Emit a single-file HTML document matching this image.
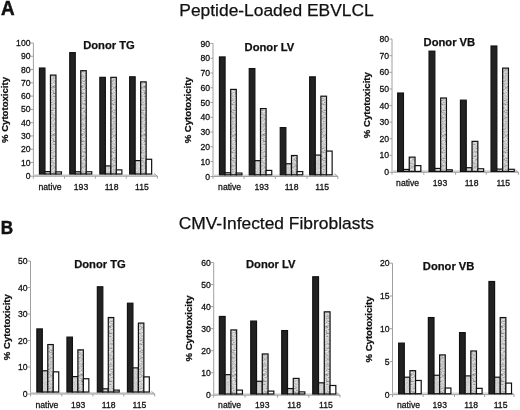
<!DOCTYPE html>
<html><head><meta charset="utf-8"><style>
html,body{margin:0;padding:0;background:#fff;}
body{filter:grayscale(100%);}
svg{display:block;}
text{font-family:"Liberation Sans", sans-serif;fill:#111;}
.t{stroke:#111;stroke-width:0.3px;}
.b{stroke:#111;stroke-width:0.25px;}
</style></head><body>
<svg width="520" height="410" viewBox="0 0 520 410">
<rect width="520" height="410" fill="#fff"/>
<defs>
<pattern id="stip" patternUnits="userSpaceOnUse" width="7" height="48" x="0.3"><rect x="0" y="0" width="1" height="1" fill="rgb(222,222,222)"/><rect x="1" y="0" width="1" height="1" fill="rgb(173,173,173)"/><rect x="2" y="0" width="1" height="1" fill="rgb(201,201,201)"/><rect x="3" y="0" width="1" height="1" fill="rgb(211,211,211)"/><rect x="4" y="0" width="1" height="1" fill="rgb(143,143,143)"/><rect x="5" y="0" width="1" height="1" fill="rgb(153,153,153)"/><rect x="6" y="0" width="1" height="1" fill="rgb(210,210,210)"/><rect x="0" y="1" width="1" height="1" fill="rgb(196,196,196)"/><rect x="1" y="1" width="1" height="1" fill="rgb(230,230,230)"/><rect x="2" y="1" width="1" height="1" fill="rgb(197,197,197)"/><rect x="3" y="1" width="1" height="1" fill="rgb(235,235,235)"/><rect x="4" y="1" width="1" height="1" fill="rgb(217,217,217)"/><rect x="5" y="1" width="1" height="1" fill="rgb(218,218,218)"/><rect x="6" y="1" width="1" height="1" fill="rgb(217,217,217)"/><rect x="0" y="2" width="1" height="1" fill="rgb(181,181,181)"/><rect x="1" y="2" width="1" height="1" fill="rgb(191,191,191)"/><rect x="2" y="2" width="1" height="1" fill="rgb(212,212,212)"/><rect x="3" y="2" width="1" height="1" fill="rgb(208,208,208)"/><rect x="4" y="2" width="1" height="1" fill="rgb(190,190,190)"/><rect x="5" y="2" width="1" height="1" fill="rgb(213,213,213)"/><rect x="6" y="2" width="1" height="1" fill="rgb(195,195,195)"/><rect x="0" y="3" width="1" height="1" fill="rgb(235,235,235)"/><rect x="1" y="3" width="1" height="1" fill="rgb(184,184,184)"/><rect x="2" y="3" width="1" height="1" fill="rgb(194,194,194)"/><rect x="3" y="3" width="1" height="1" fill="rgb(192,192,192)"/><rect x="4" y="3" width="1" height="1" fill="rgb(235,235,235)"/><rect x="5" y="3" width="1" height="1" fill="rgb(206,206,206)"/><rect x="6" y="3" width="1" height="1" fill="rgb(194,194,194)"/><rect x="0" y="4" width="1" height="1" fill="rgb(133,133,133)"/><rect x="1" y="4" width="1" height="1" fill="rgb(176,176,176)"/><rect x="2" y="4" width="1" height="1" fill="rgb(193,193,193)"/><rect x="3" y="4" width="1" height="1" fill="rgb(234,234,234)"/><rect x="4" y="4" width="1" height="1" fill="rgb(169,169,169)"/><rect x="5" y="4" width="1" height="1" fill="rgb(216,216,216)"/><rect x="6" y="4" width="1" height="1" fill="rgb(202,202,202)"/><rect x="0" y="5" width="1" height="1" fill="rgb(199,199,199)"/><rect x="1" y="5" width="1" height="1" fill="rgb(235,235,235)"/><rect x="2" y="5" width="1" height="1" fill="rgb(204,204,204)"/><rect x="3" y="5" width="1" height="1" fill="rgb(203,203,203)"/><rect x="4" y="5" width="1" height="1" fill="rgb(202,202,202)"/><rect x="5" y="5" width="1" height="1" fill="rgb(211,211,211)"/><rect x="6" y="5" width="1" height="1" fill="rgb(210,210,210)"/><rect x="0" y="6" width="1" height="1" fill="rgb(206,206,206)"/><rect x="1" y="6" width="1" height="1" fill="rgb(225,225,225)"/><rect x="2" y="6" width="1" height="1" fill="rgb(126,126,126)"/><rect x="3" y="6" width="1" height="1" fill="rgb(213,213,213)"/><rect x="4" y="6" width="1" height="1" fill="rgb(216,216,216)"/><rect x="5" y="6" width="1" height="1" fill="rgb(193,193,193)"/><rect x="6" y="6" width="1" height="1" fill="rgb(235,235,235)"/><rect x="0" y="7" width="1" height="1" fill="rgb(172,172,172)"/><rect x="1" y="7" width="1" height="1" fill="rgb(207,207,207)"/><rect x="2" y="7" width="1" height="1" fill="rgb(220,220,220)"/><rect x="3" y="7" width="1" height="1" fill="rgb(205,205,205)"/><rect x="4" y="7" width="1" height="1" fill="rgb(207,207,207)"/><rect x="5" y="7" width="1" height="1" fill="rgb(160,160,160)"/><rect x="6" y="7" width="1" height="1" fill="rgb(185,185,185)"/><rect x="0" y="8" width="1" height="1" fill="rgb(183,183,183)"/><rect x="1" y="8" width="1" height="1" fill="rgb(129,129,129)"/><rect x="2" y="8" width="1" height="1" fill="rgb(213,213,213)"/><rect x="3" y="8" width="1" height="1" fill="rgb(165,165,165)"/><rect x="4" y="8" width="1" height="1" fill="rgb(198,198,198)"/><rect x="5" y="8" width="1" height="1" fill="rgb(211,211,211)"/><rect x="6" y="8" width="1" height="1" fill="rgb(162,162,162)"/><rect x="0" y="9" width="1" height="1" fill="rgb(211,211,211)"/><rect x="1" y="9" width="1" height="1" fill="rgb(206,206,206)"/><rect x="2" y="9" width="1" height="1" fill="rgb(206,206,206)"/><rect x="3" y="9" width="1" height="1" fill="rgb(203,203,203)"/><rect x="4" y="9" width="1" height="1" fill="rgb(209,209,209)"/><rect x="5" y="9" width="1" height="1" fill="rgb(215,215,215)"/><rect x="6" y="9" width="1" height="1" fill="rgb(218,218,218)"/><rect x="0" y="10" width="1" height="1" fill="rgb(233,233,233)"/><rect x="1" y="10" width="1" height="1" fill="rgb(233,233,233)"/><rect x="2" y="10" width="1" height="1" fill="rgb(197,197,197)"/><rect x="3" y="10" width="1" height="1" fill="rgb(206,206,206)"/><rect x="4" y="10" width="1" height="1" fill="rgb(202,202,202)"/><rect x="5" y="10" width="1" height="1" fill="rgb(235,235,235)"/><rect x="6" y="10" width="1" height="1" fill="rgb(173,173,173)"/><rect x="0" y="11" width="1" height="1" fill="rgb(198,198,198)"/><rect x="1" y="11" width="1" height="1" fill="rgb(230,230,230)"/><rect x="2" y="11" width="1" height="1" fill="rgb(210,210,210)"/><rect x="3" y="11" width="1" height="1" fill="rgb(200,200,200)"/><rect x="4" y="11" width="1" height="1" fill="rgb(191,191,191)"/><rect x="5" y="11" width="1" height="1" fill="rgb(209,209,209)"/><rect x="6" y="11" width="1" height="1" fill="rgb(181,181,181)"/><rect x="0" y="12" width="1" height="1" fill="rgb(212,212,212)"/><rect x="1" y="12" width="1" height="1" fill="rgb(235,235,235)"/><rect x="2" y="12" width="1" height="1" fill="rgb(218,218,218)"/><rect x="3" y="12" width="1" height="1" fill="rgb(171,171,171)"/><rect x="4" y="12" width="1" height="1" fill="rgb(187,187,187)"/><rect x="5" y="12" width="1" height="1" fill="rgb(147,147,147)"/><rect x="6" y="12" width="1" height="1" fill="rgb(147,147,147)"/><rect x="0" y="13" width="1" height="1" fill="rgb(221,221,221)"/><rect x="1" y="13" width="1" height="1" fill="rgb(161,161,161)"/><rect x="2" y="13" width="1" height="1" fill="rgb(221,221,221)"/><rect x="3" y="13" width="1" height="1" fill="rgb(196,196,196)"/><rect x="4" y="13" width="1" height="1" fill="rgb(216,216,216)"/><rect x="5" y="13" width="1" height="1" fill="rgb(213,213,213)"/><rect x="6" y="13" width="1" height="1" fill="rgb(232,232,232)"/><rect x="0" y="14" width="1" height="1" fill="rgb(177,177,177)"/><rect x="1" y="14" width="1" height="1" fill="rgb(209,209,209)"/><rect x="2" y="14" width="1" height="1" fill="rgb(126,126,126)"/><rect x="3" y="14" width="1" height="1" fill="rgb(168,168,168)"/><rect x="4" y="14" width="1" height="1" fill="rgb(193,193,193)"/><rect x="5" y="14" width="1" height="1" fill="rgb(207,207,207)"/><rect x="6" y="14" width="1" height="1" fill="rgb(222,222,222)"/><rect x="0" y="15" width="1" height="1" fill="rgb(155,155,155)"/><rect x="1" y="15" width="1" height="1" fill="rgb(235,235,235)"/><rect x="2" y="15" width="1" height="1" fill="rgb(195,195,195)"/><rect x="3" y="15" width="1" height="1" fill="rgb(231,231,231)"/><rect x="4" y="15" width="1" height="1" fill="rgb(235,235,235)"/><rect x="5" y="15" width="1" height="1" fill="rgb(231,231,231)"/><rect x="6" y="15" width="1" height="1" fill="rgb(156,156,156)"/><rect x="0" y="16" width="1" height="1" fill="rgb(195,195,195)"/><rect x="1" y="16" width="1" height="1" fill="rgb(146,146,146)"/><rect x="2" y="16" width="1" height="1" fill="rgb(191,191,191)"/><rect x="3" y="16" width="1" height="1" fill="rgb(186,186,186)"/><rect x="4" y="16" width="1" height="1" fill="rgb(231,231,231)"/><rect x="5" y="16" width="1" height="1" fill="rgb(179,179,179)"/><rect x="6" y="16" width="1" height="1" fill="rgb(202,202,202)"/><rect x="0" y="17" width="1" height="1" fill="rgb(220,220,220)"/><rect x="1" y="17" width="1" height="1" fill="rgb(196,196,196)"/><rect x="2" y="17" width="1" height="1" fill="rgb(211,211,211)"/><rect x="3" y="17" width="1" height="1" fill="rgb(180,180,180)"/><rect x="4" y="17" width="1" height="1" fill="rgb(212,212,212)"/><rect x="5" y="17" width="1" height="1" fill="rgb(226,226,226)"/><rect x="6" y="17" width="1" height="1" fill="rgb(194,194,194)"/><rect x="0" y="18" width="1" height="1" fill="rgb(227,227,227)"/><rect x="1" y="18" width="1" height="1" fill="rgb(208,208,208)"/><rect x="2" y="18" width="1" height="1" fill="rgb(153,153,153)"/><rect x="3" y="18" width="1" height="1" fill="rgb(194,194,194)"/><rect x="4" y="18" width="1" height="1" fill="rgb(189,189,189)"/><rect x="5" y="18" width="1" height="1" fill="rgb(199,199,199)"/><rect x="6" y="18" width="1" height="1" fill="rgb(208,208,208)"/><rect x="0" y="19" width="1" height="1" fill="rgb(196,196,196)"/><rect x="1" y="19" width="1" height="1" fill="rgb(200,200,200)"/><rect x="2" y="19" width="1" height="1" fill="rgb(235,235,235)"/><rect x="3" y="19" width="1" height="1" fill="rgb(208,208,208)"/><rect x="4" y="19" width="1" height="1" fill="rgb(161,161,161)"/><rect x="5" y="19" width="1" height="1" fill="rgb(182,182,182)"/><rect x="6" y="19" width="1" height="1" fill="rgb(205,205,205)"/><rect x="0" y="20" width="1" height="1" fill="rgb(183,183,183)"/><rect x="1" y="20" width="1" height="1" fill="rgb(201,201,201)"/><rect x="2" y="20" width="1" height="1" fill="rgb(235,235,235)"/><rect x="3" y="20" width="1" height="1" fill="rgb(172,172,172)"/><rect x="4" y="20" width="1" height="1" fill="rgb(235,235,235)"/><rect x="5" y="20" width="1" height="1" fill="rgb(192,192,192)"/><rect x="6" y="20" width="1" height="1" fill="rgb(198,198,198)"/><rect x="0" y="21" width="1" height="1" fill="rgb(208,208,208)"/><rect x="1" y="21" width="1" height="1" fill="rgb(133,133,133)"/><rect x="2" y="21" width="1" height="1" fill="rgb(175,175,175)"/><rect x="3" y="21" width="1" height="1" fill="rgb(199,199,199)"/><rect x="4" y="21" width="1" height="1" fill="rgb(177,177,177)"/><rect x="5" y="21" width="1" height="1" fill="rgb(219,219,219)"/><rect x="6" y="21" width="1" height="1" fill="rgb(203,203,203)"/><rect x="0" y="22" width="1" height="1" fill="rgb(145,145,145)"/><rect x="1" y="22" width="1" height="1" fill="rgb(210,210,210)"/><rect x="2" y="22" width="1" height="1" fill="rgb(184,184,184)"/><rect x="3" y="22" width="1" height="1" fill="rgb(216,216,216)"/><rect x="4" y="22" width="1" height="1" fill="rgb(192,192,192)"/><rect x="5" y="22" width="1" height="1" fill="rgb(179,179,179)"/><rect x="6" y="22" width="1" height="1" fill="rgb(202,202,202)"/><rect x="0" y="23" width="1" height="1" fill="rgb(207,207,207)"/><rect x="1" y="23" width="1" height="1" fill="rgb(198,198,198)"/><rect x="2" y="23" width="1" height="1" fill="rgb(205,205,205)"/><rect x="3" y="23" width="1" height="1" fill="rgb(215,215,215)"/><rect x="4" y="23" width="1" height="1" fill="rgb(204,204,204)"/><rect x="5" y="23" width="1" height="1" fill="rgb(152,152,152)"/><rect x="6" y="23" width="1" height="1" fill="rgb(190,190,190)"/><rect x="0" y="24" width="1" height="1" fill="rgb(235,235,235)"/><rect x="1" y="24" width="1" height="1" fill="rgb(186,186,186)"/><rect x="2" y="24" width="1" height="1" fill="rgb(228,228,228)"/><rect x="3" y="24" width="1" height="1" fill="rgb(193,193,193)"/><rect x="4" y="24" width="1" height="1" fill="rgb(178,178,178)"/><rect x="5" y="24" width="1" height="1" fill="rgb(216,216,216)"/><rect x="6" y="24" width="1" height="1" fill="rgb(176,176,176)"/><rect x="0" y="25" width="1" height="1" fill="rgb(195,195,195)"/><rect x="1" y="25" width="1" height="1" fill="rgb(154,154,154)"/><rect x="2" y="25" width="1" height="1" fill="rgb(200,200,200)"/><rect x="3" y="25" width="1" height="1" fill="rgb(192,192,192)"/><rect x="4" y="25" width="1" height="1" fill="rgb(227,227,227)"/><rect x="5" y="25" width="1" height="1" fill="rgb(222,222,222)"/><rect x="6" y="25" width="1" height="1" fill="rgb(223,223,223)"/><rect x="0" y="26" width="1" height="1" fill="rgb(209,209,209)"/><rect x="1" y="26" width="1" height="1" fill="rgb(211,211,211)"/><rect x="2" y="26" width="1" height="1" fill="rgb(194,194,194)"/><rect x="3" y="26" width="1" height="1" fill="rgb(235,235,235)"/><rect x="4" y="26" width="1" height="1" fill="rgb(214,214,214)"/><rect x="5" y="26" width="1" height="1" fill="rgb(166,166,166)"/><rect x="6" y="26" width="1" height="1" fill="rgb(235,235,235)"/><rect x="0" y="27" width="1" height="1" fill="rgb(209,209,209)"/><rect x="1" y="27" width="1" height="1" fill="rgb(159,159,159)"/><rect x="2" y="27" width="1" height="1" fill="rgb(213,213,213)"/><rect x="3" y="27" width="1" height="1" fill="rgb(184,184,184)"/><rect x="4" y="27" width="1" height="1" fill="rgb(215,215,215)"/><rect x="5" y="27" width="1" height="1" fill="rgb(175,175,175)"/><rect x="6" y="27" width="1" height="1" fill="rgb(204,204,204)"/><rect x="0" y="28" width="1" height="1" fill="rgb(221,221,221)"/><rect x="1" y="28" width="1" height="1" fill="rgb(178,178,178)"/><rect x="2" y="28" width="1" height="1" fill="rgb(202,202,202)"/><rect x="3" y="28" width="1" height="1" fill="rgb(211,211,211)"/><rect x="4" y="28" width="1" height="1" fill="rgb(149,149,149)"/><rect x="5" y="28" width="1" height="1" fill="rgb(190,190,190)"/><rect x="6" y="28" width="1" height="1" fill="rgb(171,171,171)"/><rect x="0" y="29" width="1" height="1" fill="rgb(172,172,172)"/><rect x="1" y="29" width="1" height="1" fill="rgb(206,206,206)"/><rect x="2" y="29" width="1" height="1" fill="rgb(222,222,222)"/><rect x="3" y="29" width="1" height="1" fill="rgb(191,191,191)"/><rect x="4" y="29" width="1" height="1" fill="rgb(211,211,211)"/><rect x="5" y="29" width="1" height="1" fill="rgb(191,191,191)"/><rect x="6" y="29" width="1" height="1" fill="rgb(201,201,201)"/><rect x="0" y="30" width="1" height="1" fill="rgb(205,205,205)"/><rect x="1" y="30" width="1" height="1" fill="rgb(206,206,206)"/><rect x="2" y="30" width="1" height="1" fill="rgb(192,192,192)"/><rect x="3" y="30" width="1" height="1" fill="rgb(205,205,205)"/><rect x="4" y="30" width="1" height="1" fill="rgb(149,149,149)"/><rect x="5" y="30" width="1" height="1" fill="rgb(214,214,214)"/><rect x="6" y="30" width="1" height="1" fill="rgb(166,166,166)"/><rect x="0" y="31" width="1" height="1" fill="rgb(208,208,208)"/><rect x="1" y="31" width="1" height="1" fill="rgb(173,173,173)"/><rect x="2" y="31" width="1" height="1" fill="rgb(199,199,199)"/><rect x="3" y="31" width="1" height="1" fill="rgb(220,220,220)"/><rect x="4" y="31" width="1" height="1" fill="rgb(192,192,192)"/><rect x="5" y="31" width="1" height="1" fill="rgb(224,224,224)"/><rect x="6" y="31" width="1" height="1" fill="rgb(231,231,231)"/><rect x="0" y="32" width="1" height="1" fill="rgb(171,171,171)"/><rect x="1" y="32" width="1" height="1" fill="rgb(169,169,169)"/><rect x="2" y="32" width="1" height="1" fill="rgb(210,210,210)"/><rect x="3" y="32" width="1" height="1" fill="rgb(195,195,195)"/><rect x="4" y="32" width="1" height="1" fill="rgb(224,224,224)"/><rect x="5" y="32" width="1" height="1" fill="rgb(174,174,174)"/><rect x="6" y="32" width="1" height="1" fill="rgb(229,229,229)"/><rect x="0" y="33" width="1" height="1" fill="rgb(187,187,187)"/><rect x="1" y="33" width="1" height="1" fill="rgb(216,216,216)"/><rect x="2" y="33" width="1" height="1" fill="rgb(208,208,208)"/><rect x="3" y="33" width="1" height="1" fill="rgb(219,219,219)"/><rect x="4" y="33" width="1" height="1" fill="rgb(184,184,184)"/><rect x="5" y="33" width="1" height="1" fill="rgb(196,196,196)"/><rect x="6" y="33" width="1" height="1" fill="rgb(128,128,128)"/><rect x="0" y="34" width="1" height="1" fill="rgb(205,205,205)"/><rect x="1" y="34" width="1" height="1" fill="rgb(182,182,182)"/><rect x="2" y="34" width="1" height="1" fill="rgb(235,235,235)"/><rect x="3" y="34" width="1" height="1" fill="rgb(219,219,219)"/><rect x="4" y="34" width="1" height="1" fill="rgb(146,146,146)"/><rect x="5" y="34" width="1" height="1" fill="rgb(235,235,235)"/><rect x="6" y="34" width="1" height="1" fill="rgb(229,229,229)"/><rect x="0" y="35" width="1" height="1" fill="rgb(202,202,202)"/><rect x="1" y="35" width="1" height="1" fill="rgb(192,192,192)"/><rect x="2" y="35" width="1" height="1" fill="rgb(174,174,174)"/><rect x="3" y="35" width="1" height="1" fill="rgb(215,215,215)"/><rect x="4" y="35" width="1" height="1" fill="rgb(211,211,211)"/><rect x="5" y="35" width="1" height="1" fill="rgb(197,197,197)"/><rect x="6" y="35" width="1" height="1" fill="rgb(174,174,174)"/><rect x="0" y="36" width="1" height="1" fill="rgb(146,146,146)"/><rect x="1" y="36" width="1" height="1" fill="rgb(235,235,235)"/><rect x="2" y="36" width="1" height="1" fill="rgb(199,199,199)"/><rect x="3" y="36" width="1" height="1" fill="rgb(229,229,229)"/><rect x="4" y="36" width="1" height="1" fill="rgb(235,235,235)"/><rect x="5" y="36" width="1" height="1" fill="rgb(234,234,234)"/><rect x="6" y="36" width="1" height="1" fill="rgb(209,209,209)"/><rect x="0" y="37" width="1" height="1" fill="rgb(204,204,204)"/><rect x="1" y="37" width="1" height="1" fill="rgb(227,227,227)"/><rect x="2" y="37" width="1" height="1" fill="rgb(201,201,201)"/><rect x="3" y="37" width="1" height="1" fill="rgb(218,218,218)"/><rect x="4" y="37" width="1" height="1" fill="rgb(201,201,201)"/><rect x="5" y="37" width="1" height="1" fill="rgb(157,157,157)"/><rect x="6" y="37" width="1" height="1" fill="rgb(198,198,198)"/><rect x="0" y="38" width="1" height="1" fill="rgb(164,164,164)"/><rect x="1" y="38" width="1" height="1" fill="rgb(203,203,203)"/><rect x="2" y="38" width="1" height="1" fill="rgb(224,224,224)"/><rect x="3" y="38" width="1" height="1" fill="rgb(136,136,136)"/><rect x="4" y="38" width="1" height="1" fill="rgb(128,128,128)"/><rect x="5" y="38" width="1" height="1" fill="rgb(207,207,207)"/><rect x="6" y="38" width="1" height="1" fill="rgb(196,196,196)"/><rect x="0" y="39" width="1" height="1" fill="rgb(220,220,220)"/><rect x="1" y="39" width="1" height="1" fill="rgb(150,150,150)"/><rect x="2" y="39" width="1" height="1" fill="rgb(167,167,167)"/><rect x="3" y="39" width="1" height="1" fill="rgb(196,196,196)"/><rect x="4" y="39" width="1" height="1" fill="rgb(164,164,164)"/><rect x="5" y="39" width="1" height="1" fill="rgb(148,148,148)"/><rect x="6" y="39" width="1" height="1" fill="rgb(235,235,235)"/><rect x="0" y="40" width="1" height="1" fill="rgb(191,191,191)"/><rect x="1" y="40" width="1" height="1" fill="rgb(157,157,157)"/><rect x="2" y="40" width="1" height="1" fill="rgb(214,214,214)"/><rect x="3" y="40" width="1" height="1" fill="rgb(191,191,191)"/><rect x="4" y="40" width="1" height="1" fill="rgb(203,203,203)"/><rect x="5" y="40" width="1" height="1" fill="rgb(229,229,229)"/><rect x="6" y="40" width="1" height="1" fill="rgb(235,235,235)"/><rect x="0" y="41" width="1" height="1" fill="rgb(194,194,194)"/><rect x="1" y="41" width="1" height="1" fill="rgb(235,235,235)"/><rect x="2" y="41" width="1" height="1" fill="rgb(181,181,181)"/><rect x="3" y="41" width="1" height="1" fill="rgb(235,235,235)"/><rect x="4" y="41" width="1" height="1" fill="rgb(215,215,215)"/><rect x="5" y="41" width="1" height="1" fill="rgb(195,195,195)"/><rect x="6" y="41" width="1" height="1" fill="rgb(137,137,137)"/><rect x="0" y="42" width="1" height="1" fill="rgb(221,221,221)"/><rect x="1" y="42" width="1" height="1" fill="rgb(222,222,222)"/><rect x="2" y="42" width="1" height="1" fill="rgb(202,202,202)"/><rect x="3" y="42" width="1" height="1" fill="rgb(151,151,151)"/><rect x="4" y="42" width="1" height="1" fill="rgb(197,197,197)"/><rect x="5" y="42" width="1" height="1" fill="rgb(230,230,230)"/><rect x="6" y="42" width="1" height="1" fill="rgb(213,213,213)"/><rect x="0" y="43" width="1" height="1" fill="rgb(217,217,217)"/><rect x="1" y="43" width="1" height="1" fill="rgb(214,214,214)"/><rect x="2" y="43" width="1" height="1" fill="rgb(235,235,235)"/><rect x="3" y="43" width="1" height="1" fill="rgb(214,214,214)"/><rect x="4" y="43" width="1" height="1" fill="rgb(160,160,160)"/><rect x="5" y="43" width="1" height="1" fill="rgb(218,218,218)"/><rect x="6" y="43" width="1" height="1" fill="rgb(214,214,214)"/><rect x="0" y="44" width="1" height="1" fill="rgb(231,231,231)"/><rect x="1" y="44" width="1" height="1" fill="rgb(184,184,184)"/><rect x="2" y="44" width="1" height="1" fill="rgb(186,186,186)"/><rect x="3" y="44" width="1" height="1" fill="rgb(203,203,203)"/><rect x="4" y="44" width="1" height="1" fill="rgb(140,140,140)"/><rect x="5" y="44" width="1" height="1" fill="rgb(235,235,235)"/><rect x="6" y="44" width="1" height="1" fill="rgb(178,178,178)"/><rect x="0" y="45" width="1" height="1" fill="rgb(177,177,177)"/><rect x="1" y="45" width="1" height="1" fill="rgb(206,206,206)"/><rect x="2" y="45" width="1" height="1" fill="rgb(226,226,226)"/><rect x="3" y="45" width="1" height="1" fill="rgb(229,229,229)"/><rect x="4" y="45" width="1" height="1" fill="rgb(116,116,116)"/><rect x="5" y="45" width="1" height="1" fill="rgb(139,139,139)"/><rect x="6" y="45" width="1" height="1" fill="rgb(164,164,164)"/><rect x="0" y="46" width="1" height="1" fill="rgb(225,225,225)"/><rect x="1" y="46" width="1" height="1" fill="rgb(206,206,206)"/><rect x="2" y="46" width="1" height="1" fill="rgb(235,235,235)"/><rect x="3" y="46" width="1" height="1" fill="rgb(163,163,163)"/><rect x="4" y="46" width="1" height="1" fill="rgb(219,219,219)"/><rect x="5" y="46" width="1" height="1" fill="rgb(226,226,226)"/><rect x="6" y="46" width="1" height="1" fill="rgb(200,200,200)"/><rect x="0" y="47" width="1" height="1" fill="rgb(177,177,177)"/><rect x="1" y="47" width="1" height="1" fill="rgb(200,200,200)"/><rect x="2" y="47" width="1" height="1" fill="rgb(204,204,204)"/><rect x="3" y="47" width="1" height="1" fill="rgb(231,231,231)"/><rect x="4" y="47" width="1" height="1" fill="rgb(192,192,192)"/><rect x="5" y="47" width="1" height="1" fill="rgb(205,205,205)"/><rect x="6" y="47" width="1" height="1" fill="rgb(234,234,234)"/></pattern>
<pattern id="lite" patternUnits="userSpaceOnUse" width="7" height="30"><rect x="0" y="0" width="1" height="1" fill="rgb(210,210,210)"/><rect x="1" y="0" width="1" height="1" fill="rgb(209,209,209)"/><rect x="2" y="0" width="1" height="1" fill="rgb(198,198,198)"/><rect x="3" y="0" width="1" height="1" fill="rgb(206,206,206)"/><rect x="4" y="0" width="1" height="1" fill="rgb(204,204,204)"/><rect x="5" y="0" width="1" height="1" fill="rgb(211,211,211)"/><rect x="6" y="0" width="1" height="1" fill="rgb(207,207,207)"/><rect x="0" y="1" width="1" height="1" fill="rgb(207,207,207)"/><rect x="1" y="1" width="1" height="1" fill="rgb(205,205,205)"/><rect x="2" y="1" width="1" height="1" fill="rgb(215,215,215)"/><rect x="3" y="1" width="1" height="1" fill="rgb(217,217,217)"/><rect x="4" y="1" width="1" height="1" fill="rgb(205,205,205)"/><rect x="5" y="1" width="1" height="1" fill="rgb(213,213,213)"/><rect x="6" y="1" width="1" height="1" fill="rgb(202,202,202)"/><rect x="0" y="2" width="1" height="1" fill="rgb(208,208,208)"/><rect x="1" y="2" width="1" height="1" fill="rgb(213,213,213)"/><rect x="2" y="2" width="1" height="1" fill="rgb(218,218,218)"/><rect x="3" y="2" width="1" height="1" fill="rgb(205,205,205)"/><rect x="4" y="2" width="1" height="1" fill="rgb(207,207,207)"/><rect x="5" y="2" width="1" height="1" fill="rgb(209,209,209)"/><rect x="6" y="2" width="1" height="1" fill="rgb(197,197,197)"/><rect x="0" y="3" width="1" height="1" fill="rgb(208,208,208)"/><rect x="1" y="3" width="1" height="1" fill="rgb(203,203,203)"/><rect x="2" y="3" width="1" height="1" fill="rgb(210,210,210)"/><rect x="3" y="3" width="1" height="1" fill="rgb(200,200,200)"/><rect x="4" y="3" width="1" height="1" fill="rgb(194,194,194)"/><rect x="5" y="3" width="1" height="1" fill="rgb(208,208,208)"/><rect x="6" y="3" width="1" height="1" fill="rgb(209,209,209)"/><rect x="0" y="4" width="1" height="1" fill="rgb(204,204,204)"/><rect x="1" y="4" width="1" height="1" fill="rgb(214,214,214)"/><rect x="2" y="4" width="1" height="1" fill="rgb(206,206,206)"/><rect x="3" y="4" width="1" height="1" fill="rgb(203,203,203)"/><rect x="4" y="4" width="1" height="1" fill="rgb(211,211,211)"/><rect x="5" y="4" width="1" height="1" fill="rgb(197,197,197)"/><rect x="6" y="4" width="1" height="1" fill="rgb(203,203,203)"/><rect x="0" y="5" width="1" height="1" fill="rgb(207,207,207)"/><rect x="1" y="5" width="1" height="1" fill="rgb(213,213,213)"/><rect x="2" y="5" width="1" height="1" fill="rgb(206,206,206)"/><rect x="3" y="5" width="1" height="1" fill="rgb(210,210,210)"/><rect x="4" y="5" width="1" height="1" fill="rgb(203,203,203)"/><rect x="5" y="5" width="1" height="1" fill="rgb(210,210,210)"/><rect x="6" y="5" width="1" height="1" fill="rgb(219,219,219)"/><rect x="0" y="6" width="1" height="1" fill="rgb(203,203,203)"/><rect x="1" y="6" width="1" height="1" fill="rgb(224,224,224)"/><rect x="2" y="6" width="1" height="1" fill="rgb(203,203,203)"/><rect x="3" y="6" width="1" height="1" fill="rgb(208,208,208)"/><rect x="4" y="6" width="1" height="1" fill="rgb(209,209,209)"/><rect x="5" y="6" width="1" height="1" fill="rgb(215,215,215)"/><rect x="6" y="6" width="1" height="1" fill="rgb(199,199,199)"/><rect x="0" y="7" width="1" height="1" fill="rgb(193,193,193)"/><rect x="1" y="7" width="1" height="1" fill="rgb(212,212,212)"/><rect x="2" y="7" width="1" height="1" fill="rgb(213,213,213)"/><rect x="3" y="7" width="1" height="1" fill="rgb(212,212,212)"/><rect x="4" y="7" width="1" height="1" fill="rgb(226,226,226)"/><rect x="5" y="7" width="1" height="1" fill="rgb(209,209,209)"/><rect x="6" y="7" width="1" height="1" fill="rgb(209,209,209)"/><rect x="0" y="8" width="1" height="1" fill="rgb(214,214,214)"/><rect x="1" y="8" width="1" height="1" fill="rgb(210,210,210)"/><rect x="2" y="8" width="1" height="1" fill="rgb(219,219,219)"/><rect x="3" y="8" width="1" height="1" fill="rgb(199,199,199)"/><rect x="4" y="8" width="1" height="1" fill="rgb(205,205,205)"/><rect x="5" y="8" width="1" height="1" fill="rgb(183,183,183)"/><rect x="6" y="8" width="1" height="1" fill="rgb(213,213,213)"/><rect x="0" y="9" width="1" height="1" fill="rgb(205,205,205)"/><rect x="1" y="9" width="1" height="1" fill="rgb(214,214,214)"/><rect x="2" y="9" width="1" height="1" fill="rgb(223,223,223)"/><rect x="3" y="9" width="1" height="1" fill="rgb(207,207,207)"/><rect x="4" y="9" width="1" height="1" fill="rgb(206,206,206)"/><rect x="5" y="9" width="1" height="1" fill="rgb(204,204,204)"/><rect x="6" y="9" width="1" height="1" fill="rgb(202,202,202)"/><rect x="0" y="10" width="1" height="1" fill="rgb(203,203,203)"/><rect x="1" y="10" width="1" height="1" fill="rgb(212,212,212)"/><rect x="2" y="10" width="1" height="1" fill="rgb(208,208,208)"/><rect x="3" y="10" width="1" height="1" fill="rgb(208,208,208)"/><rect x="4" y="10" width="1" height="1" fill="rgb(206,206,206)"/><rect x="5" y="10" width="1" height="1" fill="rgb(214,214,214)"/><rect x="6" y="10" width="1" height="1" fill="rgb(211,211,211)"/><rect x="0" y="11" width="1" height="1" fill="rgb(207,207,207)"/><rect x="1" y="11" width="1" height="1" fill="rgb(212,212,212)"/><rect x="2" y="11" width="1" height="1" fill="rgb(206,206,206)"/><rect x="3" y="11" width="1" height="1" fill="rgb(199,199,199)"/><rect x="4" y="11" width="1" height="1" fill="rgb(218,218,218)"/><rect x="5" y="11" width="1" height="1" fill="rgb(211,211,211)"/><rect x="6" y="11" width="1" height="1" fill="rgb(201,201,201)"/><rect x="0" y="12" width="1" height="1" fill="rgb(215,215,215)"/><rect x="1" y="12" width="1" height="1" fill="rgb(210,210,210)"/><rect x="2" y="12" width="1" height="1" fill="rgb(197,197,197)"/><rect x="3" y="12" width="1" height="1" fill="rgb(219,219,219)"/><rect x="4" y="12" width="1" height="1" fill="rgb(210,210,210)"/><rect x="5" y="12" width="1" height="1" fill="rgb(214,214,214)"/><rect x="6" y="12" width="1" height="1" fill="rgb(209,209,209)"/><rect x="0" y="13" width="1" height="1" fill="rgb(206,206,206)"/><rect x="1" y="13" width="1" height="1" fill="rgb(197,197,197)"/><rect x="2" y="13" width="1" height="1" fill="rgb(214,214,214)"/><rect x="3" y="13" width="1" height="1" fill="rgb(208,208,208)"/><rect x="4" y="13" width="1" height="1" fill="rgb(205,205,205)"/><rect x="5" y="13" width="1" height="1" fill="rgb(210,210,210)"/><rect x="6" y="13" width="1" height="1" fill="rgb(208,208,208)"/><rect x="0" y="14" width="1" height="1" fill="rgb(212,212,212)"/><rect x="1" y="14" width="1" height="1" fill="rgb(205,205,205)"/><rect x="2" y="14" width="1" height="1" fill="rgb(207,207,207)"/><rect x="3" y="14" width="1" height="1" fill="rgb(193,193,193)"/><rect x="4" y="14" width="1" height="1" fill="rgb(205,205,205)"/><rect x="5" y="14" width="1" height="1" fill="rgb(212,212,212)"/><rect x="6" y="14" width="1" height="1" fill="rgb(217,217,217)"/><rect x="0" y="15" width="1" height="1" fill="rgb(205,205,205)"/><rect x="1" y="15" width="1" height="1" fill="rgb(207,207,207)"/><rect x="2" y="15" width="1" height="1" fill="rgb(219,219,219)"/><rect x="3" y="15" width="1" height="1" fill="rgb(205,205,205)"/><rect x="4" y="15" width="1" height="1" fill="rgb(213,213,213)"/><rect x="5" y="15" width="1" height="1" fill="rgb(219,219,219)"/><rect x="6" y="15" width="1" height="1" fill="rgb(208,208,208)"/><rect x="0" y="16" width="1" height="1" fill="rgb(216,216,216)"/><rect x="1" y="16" width="1" height="1" fill="rgb(203,203,203)"/><rect x="2" y="16" width="1" height="1" fill="rgb(209,209,209)"/><rect x="3" y="16" width="1" height="1" fill="rgb(207,207,207)"/><rect x="4" y="16" width="1" height="1" fill="rgb(208,208,208)"/><rect x="5" y="16" width="1" height="1" fill="rgb(215,215,215)"/><rect x="6" y="16" width="1" height="1" fill="rgb(224,224,224)"/><rect x="0" y="17" width="1" height="1" fill="rgb(203,203,203)"/><rect x="1" y="17" width="1" height="1" fill="rgb(203,203,203)"/><rect x="2" y="17" width="1" height="1" fill="rgb(211,211,211)"/><rect x="3" y="17" width="1" height="1" fill="rgb(200,200,200)"/><rect x="4" y="17" width="1" height="1" fill="rgb(211,211,211)"/><rect x="5" y="17" width="1" height="1" fill="rgb(212,212,212)"/><rect x="6" y="17" width="1" height="1" fill="rgb(206,206,206)"/><rect x="0" y="18" width="1" height="1" fill="rgb(211,211,211)"/><rect x="1" y="18" width="1" height="1" fill="rgb(197,197,197)"/><rect x="2" y="18" width="1" height="1" fill="rgb(213,213,213)"/><rect x="3" y="18" width="1" height="1" fill="rgb(197,197,197)"/><rect x="4" y="18" width="1" height="1" fill="rgb(203,203,203)"/><rect x="5" y="18" width="1" height="1" fill="rgb(204,204,204)"/><rect x="6" y="18" width="1" height="1" fill="rgb(205,205,205)"/><rect x="0" y="19" width="1" height="1" fill="rgb(214,214,214)"/><rect x="1" y="19" width="1" height="1" fill="rgb(208,208,208)"/><rect x="2" y="19" width="1" height="1" fill="rgb(205,205,205)"/><rect x="3" y="19" width="1" height="1" fill="rgb(211,211,211)"/><rect x="4" y="19" width="1" height="1" fill="rgb(219,219,219)"/><rect x="5" y="19" width="1" height="1" fill="rgb(208,208,208)"/><rect x="6" y="19" width="1" height="1" fill="rgb(210,210,210)"/><rect x="0" y="20" width="1" height="1" fill="rgb(216,216,216)"/><rect x="1" y="20" width="1" height="1" fill="rgb(209,209,209)"/><rect x="2" y="20" width="1" height="1" fill="rgb(199,199,199)"/><rect x="3" y="20" width="1" height="1" fill="rgb(225,225,225)"/><rect x="4" y="20" width="1" height="1" fill="rgb(223,223,223)"/><rect x="5" y="20" width="1" height="1" fill="rgb(194,194,194)"/><rect x="6" y="20" width="1" height="1" fill="rgb(207,207,207)"/><rect x="0" y="21" width="1" height="1" fill="rgb(210,210,210)"/><rect x="1" y="21" width="1" height="1" fill="rgb(214,214,214)"/><rect x="2" y="21" width="1" height="1" fill="rgb(212,212,212)"/><rect x="3" y="21" width="1" height="1" fill="rgb(206,206,206)"/><rect x="4" y="21" width="1" height="1" fill="rgb(200,200,200)"/><rect x="5" y="21" width="1" height="1" fill="rgb(208,208,208)"/><rect x="6" y="21" width="1" height="1" fill="rgb(215,215,215)"/><rect x="0" y="22" width="1" height="1" fill="rgb(200,200,200)"/><rect x="1" y="22" width="1" height="1" fill="rgb(200,200,200)"/><rect x="2" y="22" width="1" height="1" fill="rgb(207,207,207)"/><rect x="3" y="22" width="1" height="1" fill="rgb(194,194,194)"/><rect x="4" y="22" width="1" height="1" fill="rgb(206,206,206)"/><rect x="5" y="22" width="1" height="1" fill="rgb(204,204,204)"/><rect x="6" y="22" width="1" height="1" fill="rgb(211,211,211)"/><rect x="0" y="23" width="1" height="1" fill="rgb(203,203,203)"/><rect x="1" y="23" width="1" height="1" fill="rgb(201,201,201)"/><rect x="2" y="23" width="1" height="1" fill="rgb(205,205,205)"/><rect x="3" y="23" width="1" height="1" fill="rgb(207,207,207)"/><rect x="4" y="23" width="1" height="1" fill="rgb(203,203,203)"/><rect x="5" y="23" width="1" height="1" fill="rgb(208,208,208)"/><rect x="6" y="23" width="1" height="1" fill="rgb(213,213,213)"/><rect x="0" y="24" width="1" height="1" fill="rgb(216,216,216)"/><rect x="1" y="24" width="1" height="1" fill="rgb(219,219,219)"/><rect x="2" y="24" width="1" height="1" fill="rgb(202,202,202)"/><rect x="3" y="24" width="1" height="1" fill="rgb(205,205,205)"/><rect x="4" y="24" width="1" height="1" fill="rgb(190,190,190)"/><rect x="5" y="24" width="1" height="1" fill="rgb(221,221,221)"/><rect x="6" y="24" width="1" height="1" fill="rgb(202,202,202)"/><rect x="0" y="25" width="1" height="1" fill="rgb(207,207,207)"/><rect x="1" y="25" width="1" height="1" fill="rgb(211,211,211)"/><rect x="2" y="25" width="1" height="1" fill="rgb(198,198,198)"/><rect x="3" y="25" width="1" height="1" fill="rgb(211,211,211)"/><rect x="4" y="25" width="1" height="1" fill="rgb(207,207,207)"/><rect x="5" y="25" width="1" height="1" fill="rgb(195,195,195)"/><rect x="6" y="25" width="1" height="1" fill="rgb(210,210,210)"/><rect x="0" y="26" width="1" height="1" fill="rgb(216,216,216)"/><rect x="1" y="26" width="1" height="1" fill="rgb(194,194,194)"/><rect x="2" y="26" width="1" height="1" fill="rgb(213,213,213)"/><rect x="3" y="26" width="1" height="1" fill="rgb(209,209,209)"/><rect x="4" y="26" width="1" height="1" fill="rgb(211,211,211)"/><rect x="5" y="26" width="1" height="1" fill="rgb(211,211,211)"/><rect x="6" y="26" width="1" height="1" fill="rgb(217,217,217)"/><rect x="0" y="27" width="1" height="1" fill="rgb(206,206,206)"/><rect x="1" y="27" width="1" height="1" fill="rgb(214,214,214)"/><rect x="2" y="27" width="1" height="1" fill="rgb(205,205,205)"/><rect x="3" y="27" width="1" height="1" fill="rgb(213,213,213)"/><rect x="4" y="27" width="1" height="1" fill="rgb(202,202,202)"/><rect x="5" y="27" width="1" height="1" fill="rgb(207,207,207)"/><rect x="6" y="27" width="1" height="1" fill="rgb(220,220,220)"/><rect x="0" y="28" width="1" height="1" fill="rgb(211,211,211)"/><rect x="1" y="28" width="1" height="1" fill="rgb(206,206,206)"/><rect x="2" y="28" width="1" height="1" fill="rgb(199,199,199)"/><rect x="3" y="28" width="1" height="1" fill="rgb(202,202,202)"/><rect x="4" y="28" width="1" height="1" fill="rgb(209,209,209)"/><rect x="5" y="28" width="1" height="1" fill="rgb(214,214,214)"/><rect x="6" y="28" width="1" height="1" fill="rgb(210,210,210)"/><rect x="0" y="29" width="1" height="1" fill="rgb(211,211,211)"/><rect x="1" y="29" width="1" height="1" fill="rgb(207,207,207)"/><rect x="2" y="29" width="1" height="1" fill="rgb(217,217,217)"/><rect x="3" y="29" width="1" height="1" fill="rgb(205,205,205)"/><rect x="4" y="29" width="1" height="1" fill="rgb(204,204,204)"/><rect x="5" y="29" width="1" height="1" fill="rgb(214,214,214)"/><rect x="6" y="29" width="1" height="1" fill="rgb(208,208,208)"/></pattern>
</defs>
<line x1="33.4" y1="43" x2="33.4" y2="178.6" stroke="#a0a0a0" stroke-width="1"/>
<line x1="30.8" y1="176.2" x2="33.4" y2="176.2" stroke="#a0a0a0" stroke-width="1"/>
<text transform="translate(30.5,179.2) scale(0.9,1)" font-size="9.6" text-anchor="end" class="t">0</text>
<line x1="30.8" y1="162.52" x2="33.4" y2="162.52" stroke="#a0a0a0" stroke-width="1"/>
<text transform="translate(30.5,165.52) scale(0.9,1)" font-size="9.6" text-anchor="end" class="t">10</text>
<line x1="30.8" y1="149.24" x2="33.4" y2="149.24" stroke="#a0a0a0" stroke-width="1"/>
<text transform="translate(30.5,152.24) scale(0.9,1)" font-size="9.6" text-anchor="end" class="t">20</text>
<line x1="30.8" y1="135.96" x2="33.4" y2="135.96" stroke="#a0a0a0" stroke-width="1"/>
<text transform="translate(30.5,138.96) scale(0.9,1)" font-size="9.6" text-anchor="end" class="t">30</text>
<line x1="30.8" y1="122.68" x2="33.4" y2="122.68" stroke="#a0a0a0" stroke-width="1"/>
<text transform="translate(30.5,125.68) scale(0.9,1)" font-size="9.6" text-anchor="end" class="t">40</text>
<line x1="30.8" y1="109.4" x2="33.4" y2="109.4" stroke="#a0a0a0" stroke-width="1"/>
<text transform="translate(30.5,112.4) scale(0.9,1)" font-size="9.6" text-anchor="end" class="t">50</text>
<line x1="30.8" y1="96.12" x2="33.4" y2="96.12" stroke="#a0a0a0" stroke-width="1"/>
<text transform="translate(30.5,99.12) scale(0.9,1)" font-size="9.6" text-anchor="end" class="t">60</text>
<line x1="30.8" y1="82.84" x2="33.4" y2="82.84" stroke="#a0a0a0" stroke-width="1"/>
<text transform="translate(30.5,85.84) scale(0.9,1)" font-size="9.6" text-anchor="end" class="t">70</text>
<line x1="30.8" y1="69.56" x2="33.4" y2="69.56" stroke="#a0a0a0" stroke-width="1"/>
<text transform="translate(30.5,72.56) scale(0.9,1)" font-size="9.6" text-anchor="end" class="t">80</text>
<line x1="30.8" y1="56.28" x2="33.4" y2="56.28" stroke="#a0a0a0" stroke-width="1"/>
<text transform="translate(30.5,59.28) scale(0.9,1)" font-size="9.6" text-anchor="end" class="t">90</text>
<line x1="30.8" y1="43" x2="33.4" y2="43" stroke="#a0a0a0" stroke-width="1"/>
<text transform="translate(30.5,46) scale(0.9,1)" font-size="9.6" text-anchor="end" class="t">100</text>
<polygon points="33.4,174.2 154.8,174.2 157.4,176.2 33.4,176.2" fill="#d6d6d6"/>
<line x1="154.1" y1="173.5" x2="157.7" y2="176.5" stroke="#9a9a9a" stroke-width="0.9"/>
<line x1="33.4" y1="176.2" x2="157.4" y2="176.2" stroke="#a0a0a0" stroke-width="1"/>
<line x1="64.5" y1="176.2" x2="64.5" y2="178.6" stroke="#a0a0a0" stroke-width="1"/>
<line x1="95.4" y1="176.2" x2="95.4" y2="178.6" stroke="#a0a0a0" stroke-width="1"/>
<line x1="126.2" y1="176.2" x2="126.2" y2="178.6" stroke="#a0a0a0" stroke-width="1"/>
<line x1="157.4" y1="176.2" x2="157.4" y2="178.6" stroke="#a0a0a0" stroke-width="1"/>
<rect x="39.45" y="68.04" width="5.5" height="105.96" fill="#222" stroke="#111" stroke-width="1.2"/>
<rect x="44.95" y="171.62" width="5.5" height="2.38" fill="url(#lite)" stroke="#111" stroke-width="1.2"/>
<rect x="50.45" y="75.07" width="5.5" height="98.93" fill="url(#stip)" stroke="#111" stroke-width="1.2"/>
<rect x="55.95" y="171.88" width="5.5" height="2.12" fill="#fff" stroke="#111" stroke-width="1.2"/>
<text transform="translate(50,190) scale(0.9,1)" font-size="9.6" text-anchor="middle" class="t">native</text>
<rect x="69.75" y="52.63" width="5.5" height="121.37" fill="#222" stroke="#111" stroke-width="1.2"/>
<rect x="75.25" y="171.75" width="5.5" height="2.25" fill="url(#lite)" stroke="#111" stroke-width="1.2"/>
<rect x="80.75" y="70.69" width="5.5" height="103.31" fill="url(#stip)" stroke="#111" stroke-width="1.2"/>
<rect x="86.25" y="171.75" width="5.5" height="2.25" fill="#fff" stroke="#111" stroke-width="1.2"/>
<text transform="translate(81,190) scale(0.9,1)" font-size="9.6" text-anchor="middle" class="t">193</text>
<rect x="99.85" y="77.33" width="5.5" height="96.67" fill="#222" stroke="#111" stroke-width="1.2"/>
<rect x="105.35" y="165.91" width="5.5" height="8.09" fill="url(#lite)" stroke="#111" stroke-width="1.2"/>
<rect x="110.85" y="77.33" width="5.5" height="96.67" fill="url(#stip)" stroke="#111" stroke-width="1.2"/>
<rect x="116.35" y="169.89" width="5.5" height="4.11" fill="#fff" stroke="#111" stroke-width="1.2"/>
<text transform="translate(111.6,190) scale(0.9,1)" font-size="9.6" text-anchor="middle" class="t">118</text>
<rect x="129.65" y="76.8" width="5.5" height="97.2" fill="#222" stroke="#111" stroke-width="1.2"/>
<rect x="135.15" y="160.6" width="5.5" height="13.4" fill="url(#lite)" stroke="#111" stroke-width="1.2"/>
<rect x="140.65" y="81.85" width="5.5" height="92.15" fill="url(#stip)" stroke="#111" stroke-width="1.2"/>
<rect x="146.15" y="159.27" width="5.5" height="14.73" fill="#fff" stroke="#111" stroke-width="1.2"/>
<text transform="translate(142,190) scale(0.9,1)" font-size="9.6" text-anchor="middle" class="t">115</text>
<text x="108.95" y="48.9" font-size="11.2" font-weight="bold" text-anchor="middle" class="b">Donor TG</text>
<text transform="translate(7.8,110) rotate(-90)" font-size="9.6" font-weight="bold" text-anchor="middle" class="b">% Cytotoxicity</text>
<line x1="213" y1="43.5" x2="213" y2="178.9" stroke="#a0a0a0" stroke-width="1"/>
<line x1="210.4" y1="176.5" x2="213" y2="176.5" stroke="#a0a0a0" stroke-width="1"/>
<text transform="translate(210.1,179.5) scale(0.9,1)" font-size="9.6" text-anchor="end" class="t">0</text>
<line x1="210.4" y1="161.54" x2="213" y2="161.54" stroke="#a0a0a0" stroke-width="1"/>
<text transform="translate(210.1,164.54) scale(0.9,1)" font-size="9.6" text-anchor="end" class="t">10</text>
<line x1="210.4" y1="146.79" x2="213" y2="146.79" stroke="#a0a0a0" stroke-width="1"/>
<text transform="translate(210.1,149.79) scale(0.9,1)" font-size="9.6" text-anchor="end" class="t">20</text>
<line x1="210.4" y1="132.03" x2="213" y2="132.03" stroke="#a0a0a0" stroke-width="1"/>
<text transform="translate(210.1,135.03) scale(0.9,1)" font-size="9.6" text-anchor="end" class="t">30</text>
<line x1="210.4" y1="117.28" x2="213" y2="117.28" stroke="#a0a0a0" stroke-width="1"/>
<text transform="translate(210.1,120.28) scale(0.9,1)" font-size="9.6" text-anchor="end" class="t">40</text>
<line x1="210.4" y1="102.52" x2="213" y2="102.52" stroke="#a0a0a0" stroke-width="1"/>
<text transform="translate(210.1,105.52) scale(0.9,1)" font-size="9.6" text-anchor="end" class="t">50</text>
<line x1="210.4" y1="87.77" x2="213" y2="87.77" stroke="#a0a0a0" stroke-width="1"/>
<text transform="translate(210.1,90.77) scale(0.9,1)" font-size="9.6" text-anchor="end" class="t">60</text>
<line x1="210.4" y1="73.01" x2="213" y2="73.01" stroke="#a0a0a0" stroke-width="1"/>
<text transform="translate(210.1,76.01) scale(0.9,1)" font-size="9.6" text-anchor="end" class="t">70</text>
<line x1="210.4" y1="58.26" x2="213" y2="58.26" stroke="#a0a0a0" stroke-width="1"/>
<text transform="translate(210.1,61.26) scale(0.9,1)" font-size="9.6" text-anchor="end" class="t">80</text>
<line x1="210.4" y1="43.5" x2="213" y2="43.5" stroke="#a0a0a0" stroke-width="1"/>
<text transform="translate(210.1,46.5) scale(0.9,1)" font-size="9.6" text-anchor="end" class="t">90</text>
<polygon points="213,174.5 335.3,174.5 337.9,176.5 213,176.5" fill="#d6d6d6"/>
<line x1="334.6" y1="173.8" x2="338.2" y2="176.8" stroke="#9a9a9a" stroke-width="0.9"/>
<line x1="213" y1="176.5" x2="337.9" y2="176.5" stroke="#a0a0a0" stroke-width="1"/>
<line x1="244.1" y1="176.5" x2="244.1" y2="178.9" stroke="#a0a0a0" stroke-width="1"/>
<line x1="275.3" y1="176.5" x2="275.3" y2="178.9" stroke="#a0a0a0" stroke-width="1"/>
<line x1="307" y1="176.5" x2="307" y2="178.9" stroke="#a0a0a0" stroke-width="1"/>
<line x1="337.9" y1="176.5" x2="337.9" y2="178.9" stroke="#a0a0a0" stroke-width="1"/>
<rect x="219.45" y="56.94" width="5.62" height="117.86" fill="#222" stroke="#111" stroke-width="1.2"/>
<rect x="225.07" y="172.77" width="5.62" height="2.03" fill="url(#lite)" stroke="#111" stroke-width="1.2"/>
<rect x="230.69" y="89.4" width="5.62" height="85.4" fill="url(#stip)" stroke="#111" stroke-width="1.2"/>
<rect x="236.31" y="173.06" width="5.62" height="1.74" fill="#fff" stroke="#111" stroke-width="1.2"/>
<text transform="translate(229.6,190) scale(0.9,1)" font-size="9.6" text-anchor="middle" class="t">native</text>
<rect x="249.25" y="68.59" width="5.62" height="106.21" fill="#222" stroke="#111" stroke-width="1.2"/>
<rect x="254.87" y="160.67" width="5.62" height="14.13" fill="url(#lite)" stroke="#111" stroke-width="1.2"/>
<rect x="260.49" y="108.58" width="5.62" height="66.22" fill="url(#stip)" stroke="#111" stroke-width="1.2"/>
<rect x="266.11" y="170.41" width="5.62" height="4.39" fill="#fff" stroke="#111" stroke-width="1.2"/>
<text transform="translate(261.6,190) scale(0.9,1)" font-size="9.6" text-anchor="middle" class="t">193</text>
<rect x="280.25" y="127.62" width="5.62" height="47.18" fill="#222" stroke="#111" stroke-width="1.2"/>
<rect x="285.87" y="163.77" width="5.62" height="11.03" fill="url(#lite)" stroke="#111" stroke-width="1.2"/>
<rect x="291.49" y="155.5" width="5.62" height="19.3" fill="url(#stip)" stroke="#111" stroke-width="1.2"/>
<rect x="297.11" y="171.59" width="5.62" height="3.21" fill="#fff" stroke="#111" stroke-width="1.2"/>
<text transform="translate(291.6,190) scale(0.9,1)" font-size="9.6" text-anchor="middle" class="t">118</text>
<rect x="309.65" y="76.86" width="5.62" height="97.94" fill="#222" stroke="#111" stroke-width="1.2"/>
<rect x="315.27" y="155.06" width="5.62" height="19.74" fill="url(#lite)" stroke="#111" stroke-width="1.2"/>
<rect x="320.89" y="96.19" width="5.62" height="78.61" fill="url(#stip)" stroke="#111" stroke-width="1.2"/>
<rect x="326.51" y="151.08" width="5.62" height="23.72" fill="#fff" stroke="#111" stroke-width="1.2"/>
<text transform="translate(322.25,190) scale(0.9,1)" font-size="9.6" text-anchor="middle" class="t">115</text>
<text x="269.38" y="50.5" font-size="11.2" font-weight="bold" text-anchor="middle" class="b">Donor LV</text>
<text transform="translate(191.3,110.3) rotate(-90)" font-size="9.6" font-weight="bold" text-anchor="middle" class="b">% Cytotoxicity</text>
<line x1="392" y1="39.1" x2="392" y2="174.7" stroke="#a0a0a0" stroke-width="1"/>
<line x1="389.4" y1="172.3" x2="392" y2="172.3" stroke="#a0a0a0" stroke-width="1"/>
<text transform="translate(389.1,175.3) scale(0.9,1)" font-size="9.6" text-anchor="end" class="t">0</text>
<line x1="389.4" y1="155.39" x2="392" y2="155.39" stroke="#a0a0a0" stroke-width="1"/>
<text transform="translate(389.1,158.39) scale(0.9,1)" font-size="9.6" text-anchor="end" class="t">10</text>
<line x1="389.4" y1="138.78" x2="392" y2="138.78" stroke="#a0a0a0" stroke-width="1"/>
<text transform="translate(389.1,141.78) scale(0.9,1)" font-size="9.6" text-anchor="end" class="t">20</text>
<line x1="389.4" y1="122.16" x2="392" y2="122.16" stroke="#a0a0a0" stroke-width="1"/>
<text transform="translate(389.1,125.16) scale(0.9,1)" font-size="9.6" text-anchor="end" class="t">30</text>
<line x1="389.4" y1="105.55" x2="392" y2="105.55" stroke="#a0a0a0" stroke-width="1"/>
<text transform="translate(389.1,108.55) scale(0.9,1)" font-size="9.6" text-anchor="end" class="t">40</text>
<line x1="389.4" y1="88.94" x2="392" y2="88.94" stroke="#a0a0a0" stroke-width="1"/>
<text transform="translate(389.1,91.94) scale(0.9,1)" font-size="9.6" text-anchor="end" class="t">50</text>
<line x1="389.4" y1="72.32" x2="392" y2="72.32" stroke="#a0a0a0" stroke-width="1"/>
<text transform="translate(389.1,75.32) scale(0.9,1)" font-size="9.6" text-anchor="end" class="t">60</text>
<line x1="389.4" y1="55.71" x2="392" y2="55.71" stroke="#a0a0a0" stroke-width="1"/>
<text transform="translate(389.1,58.71) scale(0.9,1)" font-size="9.6" text-anchor="end" class="t">70</text>
<line x1="389.4" y1="39.1" x2="392" y2="39.1" stroke="#a0a0a0" stroke-width="1"/>
<text transform="translate(389.1,42.1) scale(0.9,1)" font-size="9.6" text-anchor="end" class="t">80</text>
<polygon points="392,170.3 515.8,170.3 518.4,172.3 392,172.3" fill="#d6d6d6"/>
<line x1="515.1" y1="169.6" x2="518.7" y2="172.6" stroke="#9a9a9a" stroke-width="0.9"/>
<line x1="392" y1="172.3" x2="518.4" y2="172.3" stroke="#a0a0a0" stroke-width="1"/>
<line x1="423.8" y1="172.3" x2="423.8" y2="174.7" stroke="#a0a0a0" stroke-width="1"/>
<line x1="455.6" y1="172.3" x2="455.6" y2="174.7" stroke="#a0a0a0" stroke-width="1"/>
<line x1="486.2" y1="172.3" x2="486.2" y2="174.7" stroke="#a0a0a0" stroke-width="1"/>
<line x1="518.4" y1="172.3" x2="518.4" y2="174.7" stroke="#a0a0a0" stroke-width="1"/>
<rect x="397.65" y="93.03" width="5.8" height="78.37" fill="#222" stroke="#111" stroke-width="1.2"/>
<rect x="403.45" y="169.44" width="5.8" height="1.96" fill="url(#lite)" stroke="#111" stroke-width="1.2"/>
<rect x="409.25" y="157.15" width="5.8" height="14.25" fill="url(#stip)" stroke="#111" stroke-width="1.2"/>
<rect x="415.05" y="165.62" width="5.8" height="5.78" fill="#fff" stroke="#111" stroke-width="1.2"/>
<text transform="translate(407.6,185.8) scale(0.9,1)" font-size="9.6" text-anchor="middle" class="t">native</text>
<rect x="429.05" y="51.16" width="5.8" height="120.24" fill="#222" stroke="#111" stroke-width="1.2"/>
<rect x="434.85" y="168.45" width="5.8" height="2.95" fill="url(#lite)" stroke="#111" stroke-width="1.2"/>
<rect x="440.65" y="98.01" width="5.8" height="73.39" fill="url(#stip)" stroke="#111" stroke-width="1.2"/>
<rect x="446.45" y="169.78" width="5.8" height="1.62" fill="#fff" stroke="#111" stroke-width="1.2"/>
<text transform="translate(440,185.8) scale(0.9,1)" font-size="9.6" text-anchor="middle" class="t">193</text>
<rect x="460.45" y="100.17" width="5.8" height="71.23" fill="#222" stroke="#111" stroke-width="1.2"/>
<rect x="466.25" y="167.7" width="5.8" height="3.7" fill="url(#lite)" stroke="#111" stroke-width="1.2"/>
<rect x="472.05" y="141.37" width="5.8" height="30.03" fill="url(#stip)" stroke="#111" stroke-width="1.2"/>
<rect x="477.85" y="168.78" width="5.8" height="2.62" fill="#fff" stroke="#111" stroke-width="1.2"/>
<text transform="translate(471.6,185.8) scale(0.9,1)" font-size="9.6" text-anchor="middle" class="t">118</text>
<rect x="491.05" y="46.01" width="5.8" height="125.39" fill="#222" stroke="#111" stroke-width="1.2"/>
<rect x="496.85" y="169.11" width="5.8" height="2.29" fill="url(#lite)" stroke="#111" stroke-width="1.2"/>
<rect x="502.65" y="68.11" width="5.8" height="103.29" fill="url(#stip)" stroke="#111" stroke-width="1.2"/>
<rect x="508.45" y="169.28" width="5.8" height="2.12" fill="#fff" stroke="#111" stroke-width="1.2"/>
<text transform="translate(503.3,185.8) scale(0.9,1)" font-size="9.6" text-anchor="middle" class="t">115</text>
<text x="449.38" y="45.5" font-size="11.2" font-weight="bold" text-anchor="middle" class="b">Donor VB</text>
<text transform="translate(370.2,105.2) rotate(-90)" font-size="9.6" font-weight="bold" text-anchor="middle" class="b">% Cytotoxicity</text>
<line x1="30.5" y1="261" x2="30.5" y2="396.4" stroke="#a0a0a0" stroke-width="1"/>
<line x1="27.9" y1="394" x2="30.5" y2="394" stroke="#a0a0a0" stroke-width="1"/>
<text transform="translate(27.6,397) scale(0.9,1)" font-size="9.6" text-anchor="end" class="t">0</text>
<line x1="27.9" y1="367" x2="30.5" y2="367" stroke="#a0a0a0" stroke-width="1"/>
<text transform="translate(27.6,370) scale(0.9,1)" font-size="9.6" text-anchor="end" class="t">10</text>
<line x1="27.9" y1="340.5" x2="30.5" y2="340.5" stroke="#a0a0a0" stroke-width="1"/>
<text transform="translate(27.6,343.5) scale(0.9,1)" font-size="9.6" text-anchor="end" class="t">20</text>
<line x1="27.9" y1="314" x2="30.5" y2="314" stroke="#a0a0a0" stroke-width="1"/>
<text transform="translate(27.6,317) scale(0.9,1)" font-size="9.6" text-anchor="end" class="t">30</text>
<line x1="27.9" y1="287.5" x2="30.5" y2="287.5" stroke="#a0a0a0" stroke-width="1"/>
<text transform="translate(27.6,290.5) scale(0.9,1)" font-size="9.6" text-anchor="end" class="t">40</text>
<line x1="27.9" y1="261" x2="30.5" y2="261" stroke="#a0a0a0" stroke-width="1"/>
<text transform="translate(27.6,264) scale(0.9,1)" font-size="9.6" text-anchor="end" class="t">50</text>
<polygon points="30.5,392 152.1,392 154.7,394 30.5,394" fill="#d6d6d6"/>
<line x1="151.4" y1="391.3" x2="155" y2="394.3" stroke="#9a9a9a" stroke-width="0.9"/>
<line x1="30.5" y1="394" x2="154.7" y2="394" stroke="#a0a0a0" stroke-width="1"/>
<line x1="61.8" y1="394" x2="61.8" y2="396.4" stroke="#a0a0a0" stroke-width="1"/>
<line x1="92.9" y1="394" x2="92.9" y2="396.4" stroke="#a0a0a0" stroke-width="1"/>
<line x1="123.8" y1="394" x2="123.8" y2="396.4" stroke="#a0a0a0" stroke-width="1"/>
<line x1="154.7" y1="394" x2="154.7" y2="396.4" stroke="#a0a0a0" stroke-width="1"/>
<rect x="36.85" y="328.91" width="5.47" height="63.09" fill="#222" stroke="#111" stroke-width="1.2"/>
<rect x="42.32" y="370.78" width="5.47" height="21.22" fill="url(#lite)" stroke="#111" stroke-width="1.2"/>
<rect x="47.79" y="344.55" width="5.47" height="47.45" fill="url(#stip)" stroke="#111" stroke-width="1.2"/>
<rect x="53.26" y="371.84" width="5.47" height="20.16" fill="#fff" stroke="#111" stroke-width="1.2"/>
<text transform="translate(46.9,407.6) scale(0.9,1)" font-size="9.6" text-anchor="middle" class="t">native</text>
<rect x="66.95" y="337.12" width="5.47" height="54.88" fill="#222" stroke="#111" stroke-width="1.2"/>
<rect x="72.42" y="376.61" width="5.47" height="15.39" fill="url(#lite)" stroke="#111" stroke-width="1.2"/>
<rect x="77.89" y="349.85" width="5.47" height="42.15" fill="url(#stip)" stroke="#111" stroke-width="1.2"/>
<rect x="83.36" y="378.73" width="5.47" height="13.27" fill="#fff" stroke="#111" stroke-width="1.2"/>
<text transform="translate(78.1,407.6) scale(0.9,1)" font-size="9.6" text-anchor="middle" class="t">193</text>
<rect x="97.35" y="286.78" width="5.47" height="105.22" fill="#222" stroke="#111" stroke-width="1.2"/>
<rect x="102.82" y="388.8" width="5.47" height="3.2" fill="url(#lite)" stroke="#111" stroke-width="1.2"/>
<rect x="108.29" y="317.52" width="5.47" height="74.48" fill="url(#stip)" stroke="#111" stroke-width="1.2"/>
<rect x="113.76" y="390.12" width="5.47" height="1.88" fill="#fff" stroke="#111" stroke-width="1.2"/>
<text transform="translate(108.75,407.6) scale(0.9,1)" font-size="9.6" text-anchor="middle" class="t">118</text>
<rect x="127.45" y="303.21" width="5.47" height="88.79" fill="#222" stroke="#111" stroke-width="1.2"/>
<rect x="132.92" y="367.87" width="5.47" height="24.13" fill="url(#lite)" stroke="#111" stroke-width="1.2"/>
<rect x="138.39" y="323.08" width="5.47" height="68.92" fill="url(#stip)" stroke="#111" stroke-width="1.2"/>
<rect x="143.86" y="376.88" width="5.47" height="15.12" fill="#fff" stroke="#111" stroke-width="1.2"/>
<text transform="translate(139.4,407.6) scale(0.9,1)" font-size="9.6" text-anchor="middle" class="t">115</text>
<text x="100" y="268" font-size="11.2" font-weight="bold" text-anchor="middle" class="b">Donor TG</text>
<text transform="translate(9.5,327.2) rotate(-90)" font-size="9.6" font-weight="bold" text-anchor="middle" class="b">% Cytotoxicity</text>
<line x1="213.7" y1="262.5" x2="213.7" y2="397.6" stroke="#a0a0a0" stroke-width="1"/>
<line x1="211.1" y1="395.2" x2="213.7" y2="395.2" stroke="#a0a0a0" stroke-width="1"/>
<text transform="translate(210.8,398.2) scale(0.9,1)" font-size="9.6" text-anchor="end" class="t">0</text>
<line x1="211.1" y1="372.75" x2="213.7" y2="372.75" stroke="#a0a0a0" stroke-width="1"/>
<text transform="translate(210.8,375.75) scale(0.9,1)" font-size="9.6" text-anchor="end" class="t">10</text>
<line x1="211.1" y1="350.7" x2="213.7" y2="350.7" stroke="#a0a0a0" stroke-width="1"/>
<text transform="translate(210.8,353.7) scale(0.9,1)" font-size="9.6" text-anchor="end" class="t">20</text>
<line x1="211.1" y1="328.65" x2="213.7" y2="328.65" stroke="#a0a0a0" stroke-width="1"/>
<text transform="translate(210.8,331.65) scale(0.9,1)" font-size="9.6" text-anchor="end" class="t">30</text>
<line x1="211.1" y1="306.6" x2="213.7" y2="306.6" stroke="#a0a0a0" stroke-width="1"/>
<text transform="translate(210.8,309.6) scale(0.9,1)" font-size="9.6" text-anchor="end" class="t">40</text>
<line x1="211.1" y1="284.55" x2="213.7" y2="284.55" stroke="#a0a0a0" stroke-width="1"/>
<text transform="translate(210.8,287.55) scale(0.9,1)" font-size="9.6" text-anchor="end" class="t">50</text>
<line x1="211.1" y1="262.5" x2="213.7" y2="262.5" stroke="#a0a0a0" stroke-width="1"/>
<text transform="translate(210.8,265.5) scale(0.9,1)" font-size="9.6" text-anchor="end" class="t">60</text>
<polygon points="213.7,393.2 337.4,393.2 340,395.2 213.7,395.2" fill="#d6d6d6"/>
<line x1="336.7" y1="392.5" x2="340.3" y2="395.5" stroke="#9a9a9a" stroke-width="0.9"/>
<line x1="213.7" y1="395.2" x2="340" y2="395.2" stroke="#a0a0a0" stroke-width="1"/>
<line x1="245" y1="395.2" x2="245" y2="397.6" stroke="#a0a0a0" stroke-width="1"/>
<line x1="277.5" y1="395.2" x2="277.5" y2="397.6" stroke="#a0a0a0" stroke-width="1"/>
<line x1="308.8" y1="395.2" x2="308.8" y2="397.6" stroke="#a0a0a0" stroke-width="1"/>
<line x1="340" y1="395.2" x2="340" y2="397.6" stroke="#a0a0a0" stroke-width="1"/>
<rect x="219.35" y="316.46" width="5.77" height="77.54" fill="#222" stroke="#111" stroke-width="1.2"/>
<rect x="225.12" y="374.67" width="5.77" height="19.33" fill="url(#lite)" stroke="#111" stroke-width="1.2"/>
<rect x="230.89" y="329.91" width="5.77" height="64.09" fill="url(#stip)" stroke="#111" stroke-width="1.2"/>
<rect x="236.66" y="390.11" width="5.77" height="3.89" fill="#fff" stroke="#111" stroke-width="1.2"/>
<text transform="translate(229.6,408.1) scale(0.9,1)" font-size="9.6" text-anchor="middle" class="t">native</text>
<rect x="250.75" y="321.09" width="5.77" height="72.91" fill="#222" stroke="#111" stroke-width="1.2"/>
<rect x="256.52" y="381.29" width="5.77" height="12.71" fill="url(#lite)" stroke="#111" stroke-width="1.2"/>
<rect x="262.29" y="353.95" width="5.77" height="40.05" fill="url(#stip)" stroke="#111" stroke-width="1.2"/>
<rect x="268.06" y="391.1" width="5.77" height="2.9" fill="#fff" stroke="#111" stroke-width="1.2"/>
<text transform="translate(262.25,408.1) scale(0.9,1)" font-size="9.6" text-anchor="middle" class="t">193</text>
<rect x="281.75" y="330.57" width="5.77" height="63.43" fill="#222" stroke="#111" stroke-width="1.2"/>
<rect x="287.52" y="388.56" width="5.77" height="5.44" fill="url(#lite)" stroke="#111" stroke-width="1.2"/>
<rect x="293.29" y="378.42" width="5.77" height="15.58" fill="url(#stip)" stroke="#111" stroke-width="1.2"/>
<rect x="299.06" y="391.87" width="5.77" height="2.13" fill="#fff" stroke="#111" stroke-width="1.2"/>
<text transform="translate(294.1,408.1) scale(0.9,1)" font-size="9.6" text-anchor="middle" class="t">118</text>
<rect x="312.75" y="276.77" width="5.77" height="117.23" fill="#222" stroke="#111" stroke-width="1.2"/>
<rect x="318.52" y="382.83" width="5.77" height="11.17" fill="url(#lite)" stroke="#111" stroke-width="1.2"/>
<rect x="324.29" y="311.83" width="5.77" height="82.17" fill="url(#stip)" stroke="#111" stroke-width="1.2"/>
<rect x="330.06" y="385.48" width="5.77" height="8.52" fill="#fff" stroke="#111" stroke-width="1.2"/>
<text transform="translate(325.9,408.1) scale(0.9,1)" font-size="9.6" text-anchor="middle" class="t">115</text>
<text x="270.8" y="268.2" font-size="11.2" font-weight="bold" text-anchor="middle" class="b">Donor LV</text>
<text transform="translate(192.1,328.5) rotate(-90)" font-size="9.6" font-weight="bold" text-anchor="middle" class="b">% Cytotoxicity</text>
<line x1="392.5" y1="263.2" x2="392.5" y2="397" stroke="#a0a0a0" stroke-width="1"/>
<line x1="389.9" y1="394.6" x2="392.5" y2="394.6" stroke="#a0a0a0" stroke-width="1"/>
<text transform="translate(389.6,397.6) scale(0.9,1)" font-size="9.6" text-anchor="end" class="t">0</text>
<line x1="389.9" y1="361.52" x2="392.5" y2="361.52" stroke="#a0a0a0" stroke-width="1"/>
<text transform="translate(389.6,364.52) scale(0.9,1)" font-size="9.6" text-anchor="end" class="t">5</text>
<line x1="389.9" y1="328.75" x2="392.5" y2="328.75" stroke="#a0a0a0" stroke-width="1"/>
<text transform="translate(389.6,331.75) scale(0.9,1)" font-size="9.6" text-anchor="end" class="t">10</text>
<line x1="389.9" y1="295.98" x2="392.5" y2="295.98" stroke="#a0a0a0" stroke-width="1"/>
<text transform="translate(389.6,298.98) scale(0.9,1)" font-size="9.6" text-anchor="end" class="t">15</text>
<line x1="389.9" y1="263.2" x2="392.5" y2="263.2" stroke="#a0a0a0" stroke-width="1"/>
<text transform="translate(389.6,266.2) scale(0.9,1)" font-size="9.6" text-anchor="end" class="t">20</text>
<polygon points="392.5,392.6 511.4,392.6 514,394.6 392.5,394.6" fill="#d6d6d6"/>
<line x1="510.7" y1="391.9" x2="514.3" y2="394.9" stroke="#9a9a9a" stroke-width="0.9"/>
<line x1="392.5" y1="394.6" x2="514" y2="394.6" stroke="#a0a0a0" stroke-width="1"/>
<line x1="423.1" y1="394.6" x2="423.1" y2="397" stroke="#a0a0a0" stroke-width="1"/>
<line x1="454.5" y1="394.6" x2="454.5" y2="397" stroke="#a0a0a0" stroke-width="1"/>
<line x1="484.6" y1="394.6" x2="484.6" y2="397" stroke="#a0a0a0" stroke-width="1"/>
<line x1="514" y1="394.6" x2="514" y2="397" stroke="#a0a0a0" stroke-width="1"/>
<rect x="398.65" y="343.12" width="5.64" height="50.58" fill="#222" stroke="#111" stroke-width="1.2"/>
<rect x="404.29" y="377.2" width="5.64" height="16.5" fill="url(#lite)" stroke="#111" stroke-width="1.2"/>
<rect x="409.93" y="370.65" width="5.64" height="23.05" fill="url(#stip)" stroke="#111" stroke-width="1.2"/>
<rect x="415.57" y="380.48" width="5.64" height="13.22" fill="#fff" stroke="#111" stroke-width="1.2"/>
<text transform="translate(408.5,408.1) scale(0.9,1)" font-size="9.6" text-anchor="middle" class="t">native</text>
<rect x="428.35" y="317.55" width="5.64" height="76.15" fill="#222" stroke="#111" stroke-width="1.2"/>
<rect x="433.99" y="375.24" width="5.64" height="18.46" fill="url(#lite)" stroke="#111" stroke-width="1.2"/>
<rect x="439.63" y="354.91" width="5.64" height="38.79" fill="url(#stip)" stroke="#111" stroke-width="1.2"/>
<rect x="445.27" y="388.02" width="5.64" height="5.68" fill="#fff" stroke="#111" stroke-width="1.2"/>
<text transform="translate(439.75,408.1) scale(0.9,1)" font-size="9.6" text-anchor="middle" class="t">193</text>
<rect x="459.55" y="332.63" width="5.64" height="61.07" fill="#222" stroke="#111" stroke-width="1.2"/>
<rect x="465.19" y="375.89" width="5.64" height="17.81" fill="url(#lite)" stroke="#111" stroke-width="1.2"/>
<rect x="470.83" y="350.98" width="5.64" height="42.72" fill="url(#stip)" stroke="#111" stroke-width="1.2"/>
<rect x="476.47" y="388.35" width="5.64" height="5.35" fill="#fff" stroke="#111" stroke-width="1.2"/>
<text transform="translate(471.25,408.1) scale(0.9,1)" font-size="9.6" text-anchor="middle" class="t">118</text>
<rect x="488.95" y="281.5" width="5.64" height="112.2" fill="#222" stroke="#111" stroke-width="1.2"/>
<rect x="494.59" y="377.2" width="5.64" height="16.5" fill="url(#lite)" stroke="#111" stroke-width="1.2"/>
<rect x="500.23" y="317.55" width="5.64" height="76.15" fill="url(#stip)" stroke="#111" stroke-width="1.2"/>
<rect x="505.87" y="383.1" width="5.64" height="10.6" fill="#fff" stroke="#111" stroke-width="1.2"/>
<text transform="translate(500.6,408.1) scale(0.9,1)" font-size="9.6" text-anchor="middle" class="t">115</text>
<text x="448.62" y="269.5" font-size="11.2" font-weight="bold" text-anchor="middle" class="b">Donor VB</text>
<text transform="translate(371.6,329.5) rotate(-90)" font-size="9.6" font-weight="bold" text-anchor="middle" class="b">% Cytotoxicity</text>
<text transform="translate(0.9,14.5) scale(0.93,1)" font-size="20.3" font-weight="bold" style="stroke:#111;stroke-width:0.5px">A</text>
<text transform="translate(0.7,233.8) scale(0.9,1)" font-size="19" font-weight="bold" style="stroke:#111;stroke-width:0.5px">B</text>
<text x="276.5" y="15.9" font-size="17.4" text-anchor="middle" class="b">Peptide-Loaded EBVLCL</text>
<text x="276.3" y="228.8" font-size="17.4" text-anchor="middle" class="b">CMV-Infected Fibroblasts</text>
</svg>
</body></html>
